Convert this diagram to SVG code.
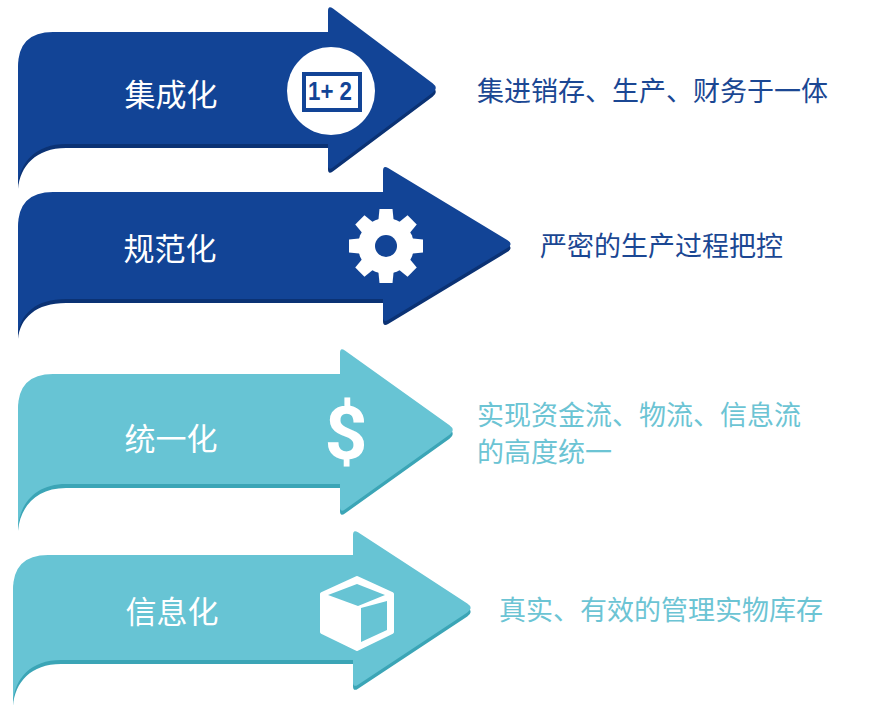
<svg xmlns="http://www.w3.org/2000/svg" xmlns:xlink="http://www.w3.org/1999/xlink" width="883" height="707" viewBox="0 0 883 707">
<style>
.dark{fill:#124496}
.darksh{fill:#0b3274}
.light{fill:#67c4d4}
.lightsh{fill:#3ba5b6}
.lbl{font-family:"Noto Sans CJK SC","Noto Sans",sans-serif;font-size:31px;fill:#ffffff;text-anchor:middle}
.desc{font-family:"Noto Sans CJK SC","Noto Sans",sans-serif;font-size:27px}
.dtxt{fill:#1b4793}
.ltxt{fill:#6cc4d4}
.w{fill:#ffffff}
</style>
<defs>
<path id="p1" d="M18,67 Q18,32 53,32 L328,32 L328,11 Q328,5 333,8.6 L432.6,83.2 Q439,88 432.6,92.8 L332.8,167.4 Q328,171 328,165 L328,144 L66,144 C36,144 20,162 18,185 Z"/>
<path id="p2" d="M18,227 Q18,192 53,192 L383,192 L383,171 Q383,165 388.1,168.1 L507.2,239.9 Q514,244 507.2,248.1 L388.1,319.9 Q383,323 383,317 L383,299 L66,299 C36,299 20,314 18,335 Z"/>
<path id="p3" d="M18,409 Q18,374 53,374 L340,374 L340,353 Q340,347 344.9,350.5 L449.5,425.3 Q456,430 449.5,434.7 L344.9,509.5 Q340,513 340,507 L340,484 L66,484 C36,484 20,503 18,527 Z"/>
<path id="p4" d="M13,590 Q13,555 48,555 L353,555 L353,535 Q353,529 358,532.3 L467.3,603.6 Q474,608 467.3,612.4 L358,684.7 Q353,688 353,682 L353,660 L61,660 C31,660 15,678 13,702 Z"/>
<polygon id="tooth" points="-8,-22 8,-22 6.5,-37 -6.5,-37"/>
</defs>

<g id="node-jichenghua">
<use href="#p1" class="darksh" transform="translate(0,4)"/>
<use href="#p1" class="dark"/>
<text class="lbl" x="171" y="106">集成化</text>
<circle cx="331" cy="91" r="44" class="w"/>
<rect x="304" y="74" width="56" height="36" fill="none" stroke="#124496" stroke-width="4"/>
<text x="308" y="100" font-family="Liberation Sans, sans-serif" font-weight="bold" font-size="25" fill="#124496" textLength="44" lengthAdjust="spacingAndGlyphs">1+ 2</text>
</g>

<g id="node-guifanhua">
<use href="#p2" class="darksh" transform="translate(0,4)"/>
<use href="#p2" class="dark"/>
<text class="lbl" x="170" y="260">规范化</text>
<g transform="translate(386,246)" class="w">
<circle r="28"/>
<use href="#tooth"/>
<use href="#tooth" transform="rotate(45)"/>
<use href="#tooth" transform="rotate(90)"/>
<use href="#tooth" transform="rotate(135)"/>
<use href="#tooth" transform="rotate(180)"/>
<use href="#tooth" transform="rotate(225)"/>
<use href="#tooth" transform="rotate(270)"/>
<use href="#tooth" transform="rotate(315)"/>
<circle r="11" fill="#124496"/>
</g>
</g>

<g id="node-tongyihua">
<use href="#p3" class="lightsh" transform="translate(0,4)"/>
<use href="#p3" class="light"/>
<text class="lbl" x="171" y="450">统一化</text>
<text x="346" y="459" font-family="Roboto, sans-serif" font-weight="bold" font-size="75" fill="#ffffff" text-anchor="middle">$</text>
</g>

<g id="node-xinxihua">
<use href="#p4" class="lightsh" transform="translate(0,4)"/>
<use href="#p4" class="light"/>
<text class="lbl" x="172" y="623">信息化</text>
<polygon points="357,578 392,594 392,632 357,649 322,632 322,594" class="w" stroke="#ffffff" stroke-width="4" stroke-linejoin="round"/>
<polygon points="328,595 357,584 385,595 358,606" fill="#67c4d4"/>
<polygon points="361,608 387,601 387,630 361,642" fill="#67c4d4"/>
</g>

<g id="descriptions">
<text class="desc dtxt" x="477" y="101">集进销存、生产、财务于一体</text>
<text class="desc dtxt" x="540" y="256">严密的生产过程把控</text>
<text class="desc ltxt" x="477" y="425">实现资金流、物流、信息流</text>
<text class="desc ltxt" x="477" y="462">的高度统一</text>
<text class="desc ltxt" x="499" y="620">真实、有效的管理实物库存</text>
</g>
<g id="connectors"/>
</svg>
